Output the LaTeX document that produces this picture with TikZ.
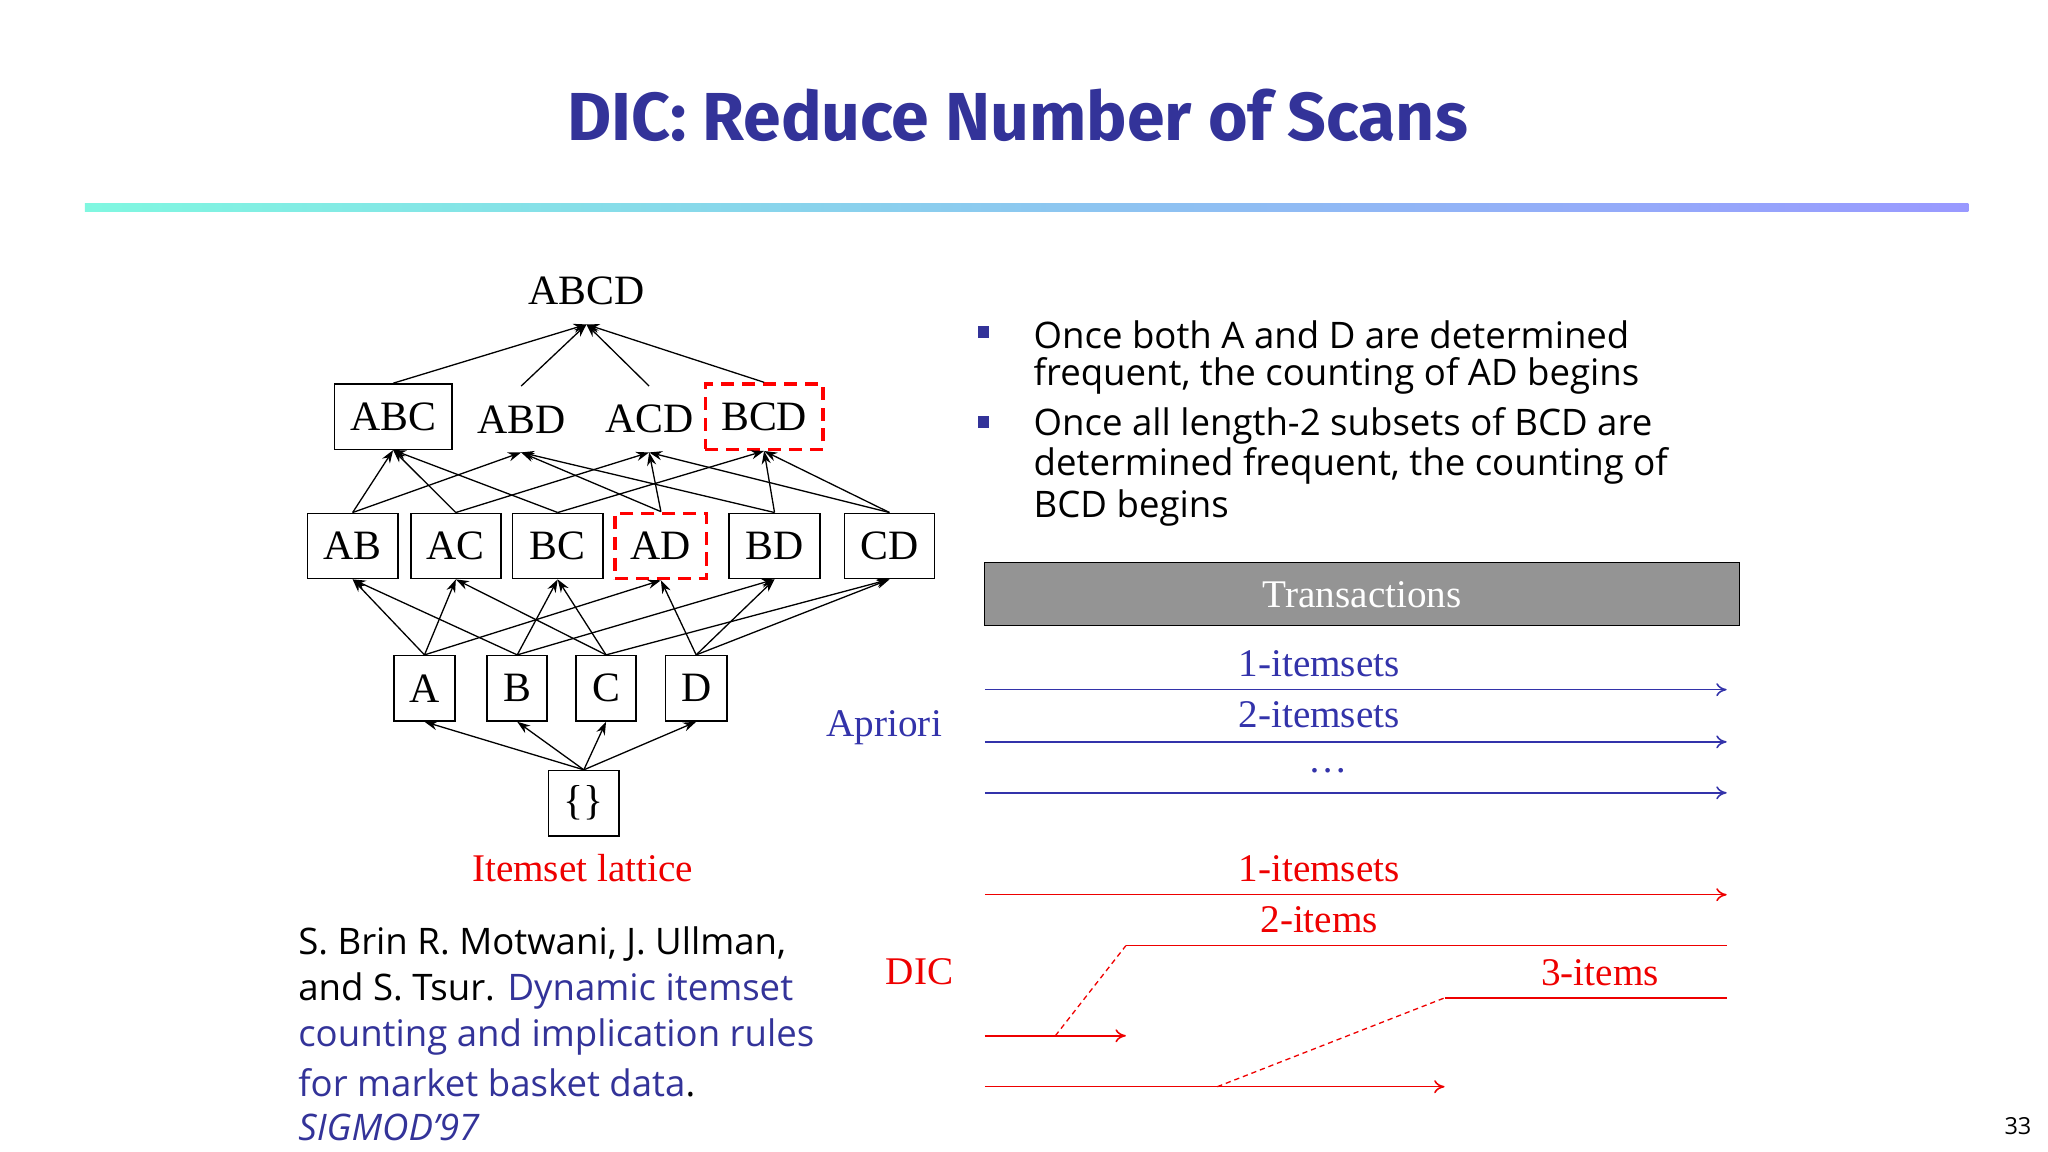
\documentclass[tikz,border=0pt]{standalone}
\usepackage{fontspec}
\setmainfont{Liberation Serif}
\newfontfamily\sansf{Open Sans}
\newfontfamily\titlef{Fira Sans}
\usetikzlibrary{arrows.meta}
\definecolor{tblue}{HTML}{333399}
\definecolor{ablue}{HTML}{3333AA}
\definecolor{dred}{HTML}{EE0000}
\begin{document}
\begin{tikzpicture}[x=0.5pt,y=-0.5pt,
  lat/.style={font=\fontsize{16}{18}\selectfont,inner sep=0pt,minimum height=25pt},
  bx/.style={lat,draw,line width=0.6pt},
  dbx/.style={lat,draw=red,dashed,line width=1.3pt,dash pattern=on 5pt off 3pt},
  edge/.style={line width=0.5pt,-{Stealth[length=5pt,width=3.5pt]}},
  arr/.style={line width=0.6pt,-{To[length=4pt,width=5pt]}},
  lab/.style={font=\fontsize{15}{17}\selectfont,inner sep=0pt},
  bul/.style={font=\sansf\fontsize{14}{16}\selectfont,anchor=west,inner sep=0pt}]
\useasboundingbox (0,0) rectangle (1568,882);
\node[font=\titlef\bfseries\fontsize{26}{30}\selectfont,text=tblue] (title) at (779,88) {DIC: Reduce Number of Scans};
\shade[left color=teal!40!green!30!cyan!50, right color=blue!40] (65,156) rectangle (1507,162);
% lattice
\node[lat] (abcd) at (449,223) {ABCD};
\node[bx,minimum width=45pt] (abc) at (301,319) {ABC};
\node[lat] (abd) at (399,321) {ABD};
\node[lat] (acd) at (497,321) {ACD};
\node[dbx,minimum width=45pt] (bcd) at (585,319) {BCD};
\node[bx,minimum width=34.5pt] (ab) at (270,418) {AB};
\node[bx,minimum width=34.5pt] (ac) at (349,418) {AC};
\node[bx,minimum width=34.5pt] (bc) at (427,418) {BC};
\node[dbx,minimum width=35pt] (ad) at (506,418) {AD};
\node[bx,minimum width=35pt] (bd) at (593,418) {BD};
\node[bx,minimum width=34.5pt] (cd) at (681,418) {CD};
\node[bx,minimum width=23.5pt] (a) at (325,527) {A};
\node[bx,minimum width=23pt] (b) at (396,527) {B};
\node[bx,minimum width=23pt] (c) at (464,527) {C};
\node[bx,minimum width=23.5pt] (d) at (533,527) {D};
\node[bx,minimum width=27pt] (e) at (447,615) {\{\}};
\node[lab,text=dred] (il) at (446,665) {Itemset lattice};
\foreach \t in {a,b,c,d} \draw[edge] (e.north) -- (\t.south);
\foreach \s/\t in {a/ab,a/ac,a/ad,b/ab,b/bc,b/bd,c/ac,c/bc,c/cd,d/ad,d/bd,d/cd,
  ab/abc,ab/abd,ac/abc,ac/acd,bc/abc,bc/bcd,ad/abd,ad/acd,bd/abd,bd/bcd,cd/acd,cd/bcd,
  abc/abcd,abd/abcd,acd/abcd,bcd/abcd}
  \draw[edge] (\s.north) -- (\t.south);
% bullets
\node[fill=tblue,minimum size=4.5pt,inner sep=0pt] (b1) at (753,254) {};
\node[fill=tblue,minimum size=4.5pt,inner sep=0pt] (b2) at (753,323) {};
\node[bul] (t1) at (791,256) {Once both A and D are determined};
\node[bul] (t2) at (791,288) {frequent, the counting of AD begins};
\node[bul] (t3) at (791,326) {Once all length-2 subsets of BCD are};
\node[bul] (t4) at (791,357) {determined frequent, the counting of};
\node[bul] (t5) at (791,389) {BCD begins};
% transactions
\node[draw,fill=black!42,minimum width=289pt,minimum height=24pt,inner sep=0pt,
  font=\fontsize{15}{17}\selectfont,text=white] (tr) at (1043,455) {Transactions};
\node[lab,text=ablue] (ap) at (677,557) {Apriori};
\coordinate (p1s) at (754,528); \coordinate (p1e) at (1322,528);
\coordinate (p2s) at (754,568); \coordinate (p2e) at (1322,568);
\coordinate (p3s) at (754,607); \coordinate (p3e) at (1322,607);
\draw[arr,ablue] (p1s) -- (p1e);
\draw[arr,ablue] (p2s) -- (p2e);
\draw[arr,ablue] (p3s) -- (p3e);
\node[lab,text=ablue] (l1) at (1010,508) {1-itemsets};
\node[lab,text=ablue] (l2) at (1010,547) {2-itemsets};
\node[lab,text=ablue] (l3) at (1017,590) {\dots};
% DIC
\node[lab,text=dred] (dic) at (704,744) {DIC};
\node[lab,text=dred] (m1) at (1010,665) {1-itemsets};
\node[lab,text=dred] (m2) at (1010,704) {2-items};
\node[lab,text=dred] (m3) at (1225,745) {3-items};
\coordinate (q1s) at (754,685); \coordinate (q1e) at (1322,685);
\coordinate (q2a) at (862,724); \coordinate (q2e) at (1322,724);
\coordinate (q2s) at (754,793); \coordinate (q2t) at (862,793); \coordinate (q2d) at (808,793);
\coordinate (q3a) at (1106,764); \coordinate (q3e) at (1322,764);
\coordinate (q3s) at (754,832); \coordinate (q3t) at (1106,832); \coordinate (q3d) at (932,832);
\draw[arr,dred] (q1s) -- (q1e);
\draw[dred,line width=0.6pt] (q2a) -- (q2e);
\draw[dred,line width=0.6pt] (q3a) -- (q3e);
\draw[arr,dred] (q2s) -- (q2t);
\draw[arr,dred] (q3s) -- (q3t);
\draw[dred,dashed,line width=0.5pt,dash pattern=on 2pt off 1.5pt] (q2d) -- (q2a);
\draw[dred,dashed,line width=0.5pt,dash pattern=on 2pt off 1.5pt] (q3d) -- (q3a);
% citation
\begin{scope}[every node/.style={bul}]
\node (c1) at (228,723) {S. Brin R. Motwani, J. Ullman,};
\node (c2) at (228,759) {and S. Tsur. \textcolor{tblue}{Dynamic itemset}};
\node[text=tblue] (c3) at (228,794) {counting and implication rules};
\node (c4) at (228,829) {\textcolor{tblue}{for market basket data}.};
\node[text=tblue] (c5) at (228,863) {\itshape SIGMOD’97};
\end{scope}
\node[font=\sansf\fontsize{9}{10}\selectfont] (pg) at (1545,862) {33};
\end{tikzpicture}
\end{document}
